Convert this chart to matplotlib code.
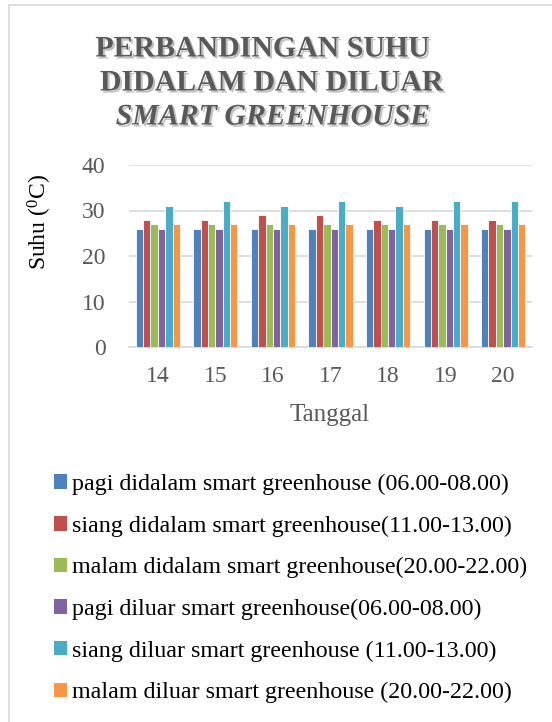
import matplotlib

matplotlib.use("Agg")
import matplotlib.pyplot as plt
import matplotlib.patheffects as pe
from matplotlib.patches import Patch, Rectangle
import numpy as np

dates = ["14", "15", "16", "17", "18", "19", "20"]
series_names = [
    "pagi didalam smart greenhouse (06.00-08.00)",
    "siang didalam smart greenhouse(11.00-13.00)",
    "malam didalam smart greenhouse(20.00-22.00)",
    "pagi diluar smart greenhouse(06.00-08.00)",
    "siang diluar smart greenhouse (11.00-13.00)",
    "malam diluar smart greenhouse (20.00-22.00)",
]
pagi_dalam = [26, 26, 26, 26, 26, 26, 26]
siang_dalam = [28, 28, 29, 29, 28, 28, 28]
malam_dalam = [27, 27, 27, 27, 27, 27, 27]
pagi_luar = [26, 26, 26, 26, 26, 26, 26]
siang_luar = [31, 32, 31, 32, 31, 32, 32]
malam_luar = [27, 27, 27, 27, 27, 27, 27]
colors = ["#4F81BD", "#C0504D", "#9BBB59", "#8064A2", "#4BACC6", "#F79646"]

plt.rcParams["font.family"] = ["Liberation Serif", "DejaVu Serif"]
plt.rcParams["mathtext.fontset"] = "custom"
plt.rcParams["mathtext.rm"] = "Liberation Serif"

W, H = 552, 722
fig = plt.figure(figsize=(W / 100, H / 100), dpi=100)
gray = "#595959"

# chart border (only left/top visible in the crop)
fig.add_artist(Rectangle((9 / W, -0.1), 1.2, (H - 5) / H + 0.1, transform=fig.transFigure,
                         facecolor="none", edgecolor="#d9d9d9", linewidth=1.2))

ax = fig.add_axes([129 / W, (H - 347) / H, (532 - 129) / W, (347 - 165) / H])
values = [pagi_dalam, siang_dalam, malam_dalam, pagi_luar, siang_luar, malam_luar]
x = np.arange(len(dates))
slot = 0.128
for i, (vals, c) in enumerate(zip(values, colors)):
    ax.bar(x + (i - 2.5) * slot, vals, width=slot, color=c, edgecolor="white",
           linewidth=0.6, zorder=3)

ax.set_xlim(-0.5, len(dates) - 0.5)
ax.set_ylim(0, 40)
ax.set_yticks([0, 10, 20, 30, 40])
ax.set_xticks(x)
ax.set_xticklabels(dates)
ax.grid(axis="y", color="#d9d9d9", linewidth=1.2, zorder=0)
for s in ["top", "right", "left"]:
    ax.spines[s].set_visible(False)
ax.spines["bottom"].set_color("#d9d9d9")
ax.spines["bottom"].set_linewidth(1.2)
ax.tick_params(length=0)
ax.tick_params(axis="y", pad=17, labelsize=17, labelcolor=gray)
ax.tick_params(axis="x", pad=14, labelsize=17, labelcolor=gray)

fig.text(330 / W, 1 - 415 / H, "Tanggal", ha="center", va="center",
         fontsize=18, color=gray)
fig.text(40 / W, 1 - 222 / H, r"Suhu ($\mathregular{^0}$C)", ha="center", va="center",
         rotation=90, fontsize=17, color="black")

shadow = [pe.SimplePatchShadow(offset=(1.5, -1.5), shadow_rgbFace="#999999", alpha=0.6),
          pe.Normal()]
title_lines = [("PERBANDINGAN SUHU", "normal", 263, 49),
               ("DIDALAM DAN DILUAR", "normal", 272, 83),
               ("SMART GREENHOUSE", "italic", 273, 117)]
for text, style, cx, cy in title_lines:
    fig.text(cx / W, 1 - cy / H, text, ha="center", va="center", fontsize=21.5,
             fontweight="bold", style=style, color=gray, path_effects=shadow)

handles = [Patch(facecolor=c, edgecolor="none") for c in colors]
leg = fig.legend(handles, series_names, loc="upper left",
                 bbox_to_anchor=(54 / W, 1 - 474 / H), frameon=False,
                 fontsize=17.3, handlelength=0.55,
                 handleheight=0.55, handletextpad=0.18, labelspacing=0.85,
                 borderaxespad=0, borderpad=0)

fig.savefig("out.png", dpi=100)
